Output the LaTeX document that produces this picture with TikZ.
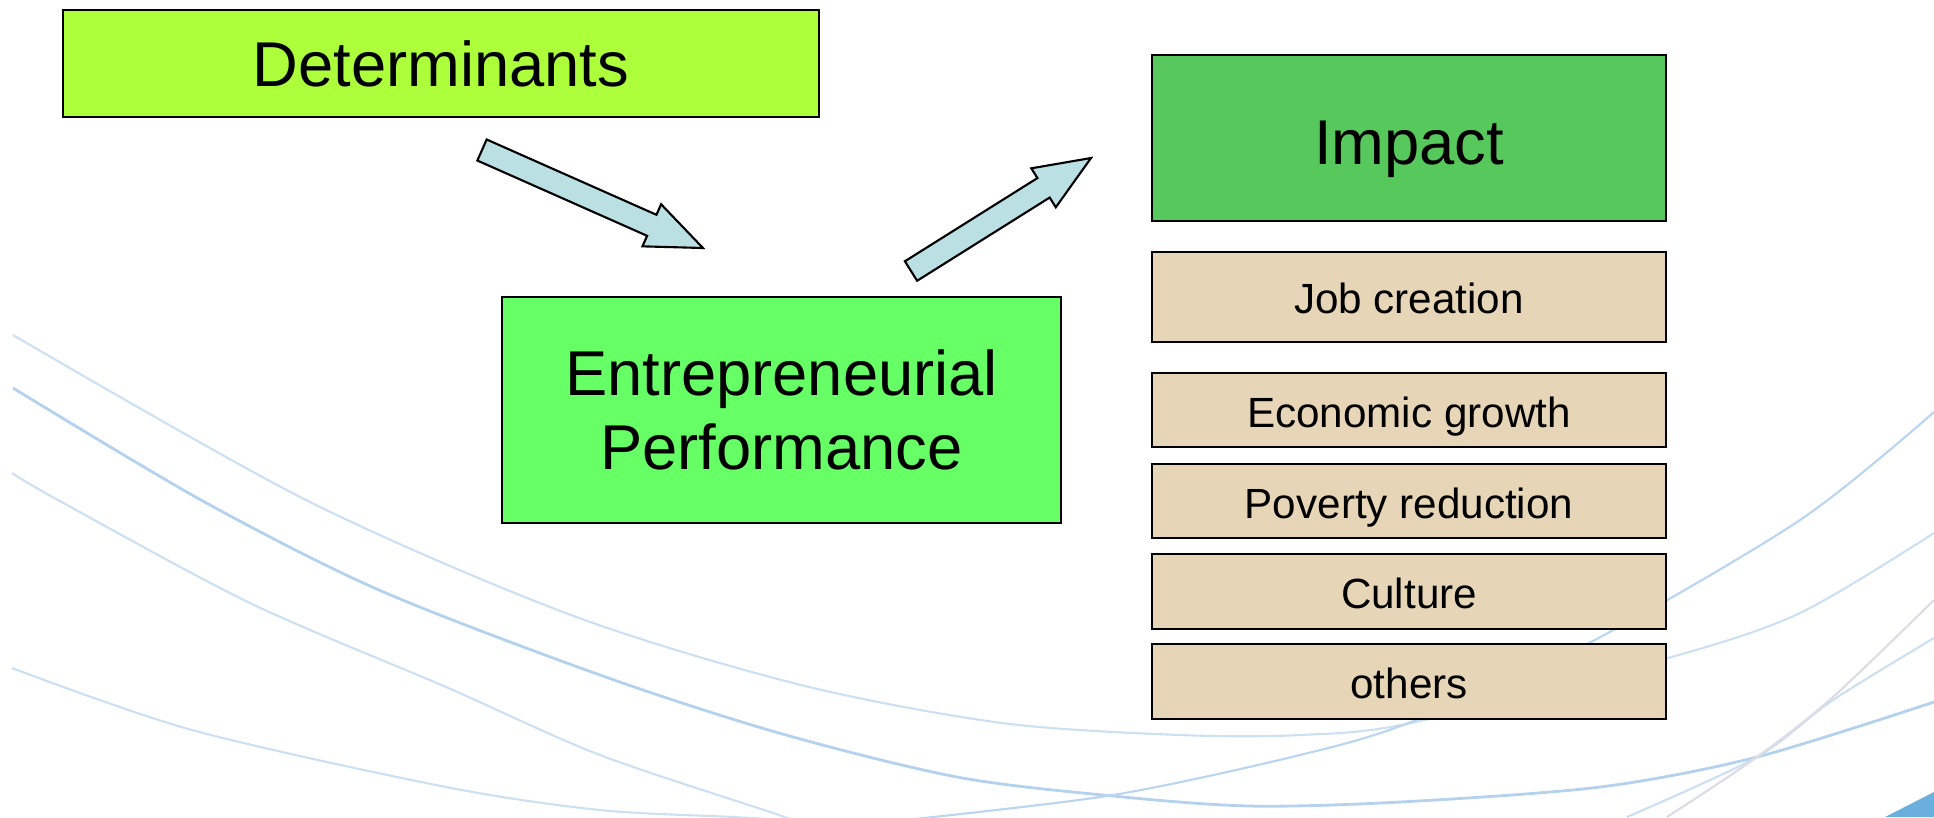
\documentclass[tikz,border=0pt]{standalone}
\usepackage{fontspec}
\setmainfont{Liberation Sans}
\usetikzlibrary{positioning,calc}

\definecolor{detgreen}{RGB}{173,255,60}
\definecolor{perfgreen}{RGB}{102,255,102}
\definecolor{impactgreen}{RGB}{87,200,92}
\definecolor{impacttan}{RGB}{230,213,183}
\definecolor{arrowblue}{RGB}{186,224,228}
\definecolor{swooshblue}{RGB}{204,224,242}
\definecolor{swooshdeep}{RGB}{180,210,238}
\definecolor{swooshgrey}{RGB}{220,221,228}
\definecolor{cornerblue}{RGB}{106,175,221}

\tikzset{
  box/.style={rectangle, draw=black, line width=0.6pt, inner sep=0pt, outer sep=0pt,
    align=center},
  bigbox/.style={box, font=\fontsize{18}{21}\selectfont},
  tanbox/.style={box, fill=impacttan, minimum width=5.14cm, minimum height=0.74cm,
    text height=9.6pt, text depth=0pt, font=\fontsize{12}{14}\selectfont},
  swoosh/.style={draw=swooshblue, line width=0.6pt},
  blockarrow/.style={draw=black, fill=arrowblue, line width=0.6pt, line join=miter},
}

% block arrow from tail coordinate to head coordinate
\newcommand{\blockarrow}[2]{%
  \coordinate (neck) at ($(#2)!0.56cm!(#1)$);
  \draw[blockarrow] ($(#1)!0.115cm!90:(#2)$) -- ($(neck)!0.115cm!90:(#2)$)
    -- ($(neck)!0.23cm!90:(#2)$) -- (#2) -- ($(neck)!0.23cm!-90:(#2)$)
    -- ($(neck)!0.115cm!-90:(#2)$) -- ($(#1)!0.115cm!-90:(#2)$) -- cycle;
}

\begin{document}
\begin{tikzpicture}[x=0.01cm, y=-0.01cm]
  \useasboundingbox (0,0) rectangle (1934,817);

  % background swooshes
  \begin{scope}
    \clip (0,0) rectangle (1934,817);
    \draw[swoosh] plot[smooth] coordinates {(13,335) (306,500) (571,615) (801,685)
      (1002,723) (1180,735) (1300,735) (1411,723) (1668,658) (1800,613) (1934,533)};
    \draw[swoosh, draw=swooshdeep, line width=0.8pt] plot[smooth] coordinates {(13,388)
      (201,500) (379,590) (600,675) (779,733) (957,777) (1113,796) (1250,806)
      (1400,802) (1600,787) (1757,757) (1934,702)};
    \draw[swoosh] plot[smooth] coordinates {(12,473) (58,500) (250,603) (446,687)
      (600,755) (779,815) (790,822)};
    \draw[swoosh] plot[smooth] coordinates {(12,668) (192,730) (446,787) (600,810)
      (734,817) (780,820)};
    \draw[swoosh, draw=swooshdeep!80!swooshblue] plot[smooth] coordinates {(905,820)
      (1113,795) (1300,755) (1411,722) (1589,643) (1800,520) (1934,412)};
    \draw[swoosh] plot[smooth] coordinates {(1627,817) (1757,757) (1833,700) (1934,638)};
    \draw[swoosh, draw=swooshgrey] plot[smooth] coordinates {(1667,817) (1757,757)
      (1833,697) (1934,600)};
    \fill[cornerblue] (1885,817) -- (1934,792) -- (1934,817) -- cycle;
  \end{scope}

  % boxes
  \node[bigbox, fill=detgreen, minimum width=7.56cm, minimum height=1.07cm]
    (det) at (441,63.5) {Determinants};
  \node[bigbox, fill=perfgreen, minimum width=5.59cm, minimum height=2.26cm]
    (perf) at (781.5,410) {Entrepreneurial\\Performance};
  \node[bigbox, fill=impactgreen, minimum width=5.14cm, minimum height=1.66cm,
    text height=15.3pt, text depth=0pt] (impact) at (1409,138) {Impact};

  \node[tanbox, minimum height=0.9cm, below=0.31cm of impact] (jobs) {Job creation};
  \node[tanbox, below=0.31cm of jobs] (growth) {Economic growth};
  \node[tanbox, below=0.17cm of growth] (poverty) {Poverty reduction};
  \node[tanbox, minimum height=0.75cm, below=0.16cm of poverty] (culture) {Culture};
  \node[tanbox, minimum height=0.75cm, below=0.15cm of culture] (others) {others};

  % arrows
  \coordinate (dettail) at (482,150);
  \coordinate (dethead) at (703,248);
  \coordinate (perftail) at (911,271);
  \coordinate (perfhead) at (1091,158);
  \blockarrow{dettail}{dethead}
  \blockarrow{perftail}{perfhead}
\end{tikzpicture}
\end{document}
